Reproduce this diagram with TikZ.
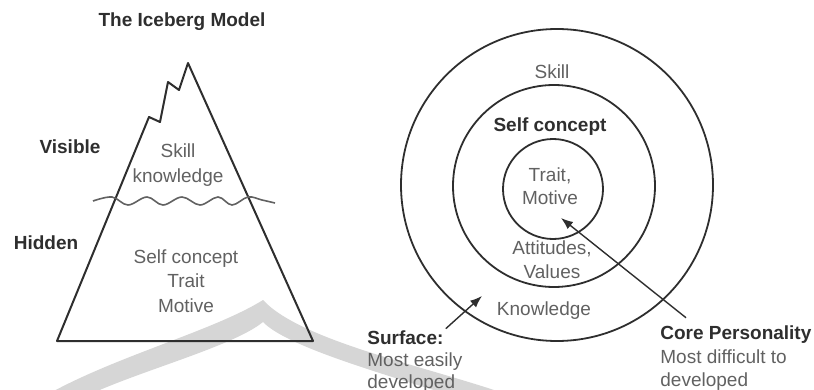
\documentclass[tikz,border=0pt]{standalone}
\usepackage{fontspec}
\setmainfont{Liberation Sans}
\usetikzlibrary{arrows.meta}
\usetikzlibrary{positioning}
\definecolor{inkdark}{gray}{0.18}
\definecolor{inkgray}{gray}{0.38}
\definecolor{markgray}{gray}{0.84}
\tikzset{lbl/.style = {text = inkdark, inner sep = 0, font = \fontsize{9.5}{12}\selectfont\bfseries}}
\tikzset{txt/.style = {text = inkgray, inner sep = 0, align = center, font = \fontsize{9.5}{12.2}\selectfont}}
\tikzset{ring/.style = {draw = inkdark, line width = 0.9pt}}
\tikzset{berg/.style = {draw = inkdark, line width = 1pt, line join = round}}
\tikzset{wave/.style = {draw = inkgray, line width = 0.8pt}}
\tikzset{ptr/.style = {draw = inkdark, line width = 0.7pt, -{Latex[length = 6pt, width = 4.5pt]}}}

\begin{document}
\begin{tikzpicture}[x = 0.5pt, y = -0.5pt]
      \useasboundingbox (0, 0) rectangle (814, 390);

      \fill [markgray] (263, 300) .. controls (215, 330) and (120, 355) .. (52, 392)
        -- (95, 392) .. controls (150, 368) and (235, 345) .. (263, 322)
        .. controls (285, 345) and (370, 370) .. (440, 392)
        -- (500, 392) .. controls (420, 365) and (300, 340) .. (263, 300) -- cycle;

      \node [lbl] (title) at (182, 22) {The Iceberg Model};
      \node [lbl] (visible) at (70, 147) {Visible};
      \node [lbl] (hidden) at (46, 243) {Hidden};

      \draw [berg] (57, 341) -- (149, 117) -- (160, 122) -- (168, 82) -- (179, 90)
        -- (188, 63) -- (313, 341) -- cycle;
      \draw [wave] plot [smooth, tension = 0.6] coordinates {(93, 201) (112, 197) (128, 205)
        (147, 197) (163, 205) (182, 197) (200, 205) (218, 197) (232, 205) (248, 197)
        (262, 200) (275, 203)};

      \node [txt, font = \fontsize{9.5}{12.5}\selectfont] (above) at (178, 165) {Skill\\knowledge};
      \node [txt] (below) at (186, 281) {Self concept\\Trait\\Motive};

      \draw [ring] (557, 185) circle [radius = 78pt];
      \draw [ring] (554, 186) circle [radius = 50.5pt];
      \draw [ring] (553, 189) circle [radius = 25pt];

      \node [txt] (skill) at (552, 72) {Skill};
      \node [lbl] (self) at (550, 127) {Self concept};
      \node [txt, font = \fontsize{9.5}{11.5}\selectfont] (trait) at (550, 186) {Trait,\\Motive};
      \node [txt] (attitude) at (552, 260) {Attitudes,\\Values};
      \node [txt] (knowledge) at (544, 311) {Knowledge};

      \node [lbl, anchor = west] (surface) at (367, 338) {Surface:};
      \node [txt, align = left, anchor = north west, font = \fontsize{9.5}{11}\selectfont]
        (easy) at (367, 352) {Most easily\\developed};
      \node [lbl, anchor = west] (core) at (660, 335) {Core Personality};
      \node [txt, align = left, anchor = north west, font = \fontsize{9.5}{11.5}\selectfont]
        (hard) at (660, 349) {Most difficult to\\developed};

      \coordinate (surfacetip) at (482, 296);
      \coordinate (coretip) at (561, 218);
      \draw [ptr] ([xshift = 1pt, yshift = 1pt]surface.north east) -- (surfacetip);
      \draw [ptr] ([xshift = 13pt, yshift = 4pt]core.north west) -- (coretip);
\end{tikzpicture}
\end{document}
